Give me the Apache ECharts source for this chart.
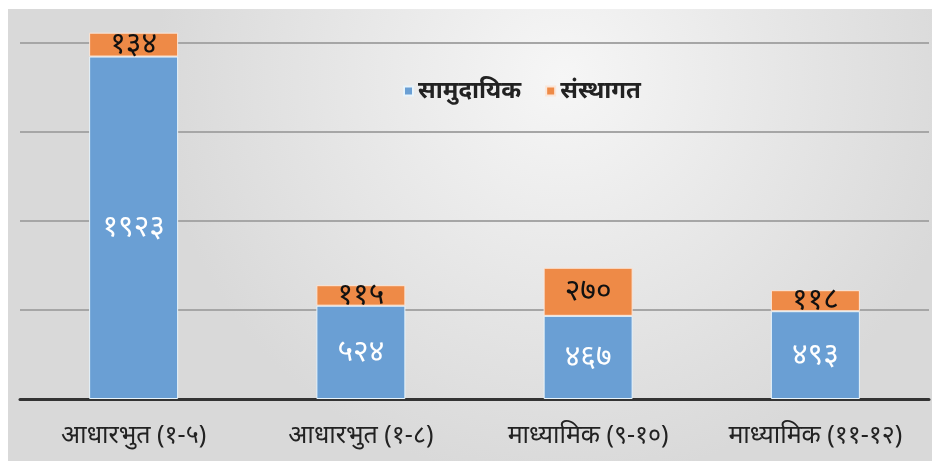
<!DOCTYPE html>
<html>
<head>
<meta charset="utf-8">
<script src="https://cdn.jsdelivr.net/npm/echarts@6/dist/echarts.min.js"></script>
<style>
  html, body { margin: 0; padding: 0; background: #fff; }
  #chart { width: 934px; height: 461px; }
</style>
</head>
<body>
<div id="chart"></div>
<script>
  // data
  var categories = ['आधारभुत (१-५)', 'आधारभुत (१-८)', 'माध्यामिक (९-१०)', 'माध्यामिक (११-१२)'];
  var seriesNames = ['सामुदायिक', 'संस्थागत'];
  var communityValues = [1923, 524, 467, 493];
  var institutionalValues = [134, 115, 270, 118];

  var nepaliDigits = ['०', '१', '२', '३', '४', '५', '६', '७', '८', '९'];
  function toNepali(n) {
    return String(n).replace(/[0-9]/g, function (d) { return nepaliDigits[+d]; });
  }

  var chart = echarts.init(document.getElementById('chart'));
  var font = "'Noto Sans', 'Noto Sans Devanagari', 'Lohit Devanagari', sans-serif";

  chart.setOption({
    animation: false,
    textStyle: { fontFamily: font },
    graphic: [{
      type: 'rect',
      z: -10,
      shape: { x: 8, y: 9, width: 924, height: 452 },
      style: {
        fill: new echarts.graphic.RadialGradient(0.6, 0.15, 0.9, [
          { offset: 0, color: '#f6f6f6' },
          { offset: 1, color: '#d9d9d9' }
        ])
      }
    }],
    legend: {
      data: seriesNames,
      left: 398,
      top: 74,
      itemWidth: 9,
      itemHeight: 9,
      itemGap: 24,
      icon: 'rect',
      textStyle: { fontSize: 24, color: '#222', fontWeight: 'bold', fontFamily: font }
    },
    grid: { left: 20, right: 5, top: 9, bottom: 62 },
    xAxis: {
      type: 'category',
      data: categories,
      axisTick: { show: false },
      axisLine: { lineStyle: { color: '#333', width: 3 } },
      axisLabel: { fontSize: 25, color: '#222', margin: 24, fontFamily: font }
    },
    yAxis: {
      type: 'value',
      min: 0,
      max: 2190,
      interval: 500,
      axisLabel: { show: false },
      axisLine: { show: false },
      axisTick: { show: false },
      splitLine: { showMaxLine: false, lineStyle: { color: '#a6a6a6', width: 2 } }
    },
    series: [
      {
        name: seriesNames[0],
        type: 'bar',
        stack: 'total',
        barWidth: 89,
        data: communityValues,
        itemStyle: { color: '#6a9fd4', borderColor: '#e8f4fb', borderWidth: 1 },
        label: {
          show: true,
          position: 'inside',
          color: '#fff',
          fontSize: 30,
          fontFamily: font,
          formatter: function (p) { return toNepali(p.value); }
        }
      },
      {
        name: seriesNames[1],
        type: 'bar',
        stack: 'total',
        barWidth: 89,
        data: institutionalValues,
        itemStyle: { color: '#ee8a47', borderColor: '#fbe6d8', borderWidth: 1 },
        label: {
          show: true,
          position: 'inside',
          color: '#111',
          fontSize: 30,
          fontFamily: font,
          formatter: function (p) { return toNepali(p.value); }
        }
      }
    ]
  });
</script>
</body>
</html>
